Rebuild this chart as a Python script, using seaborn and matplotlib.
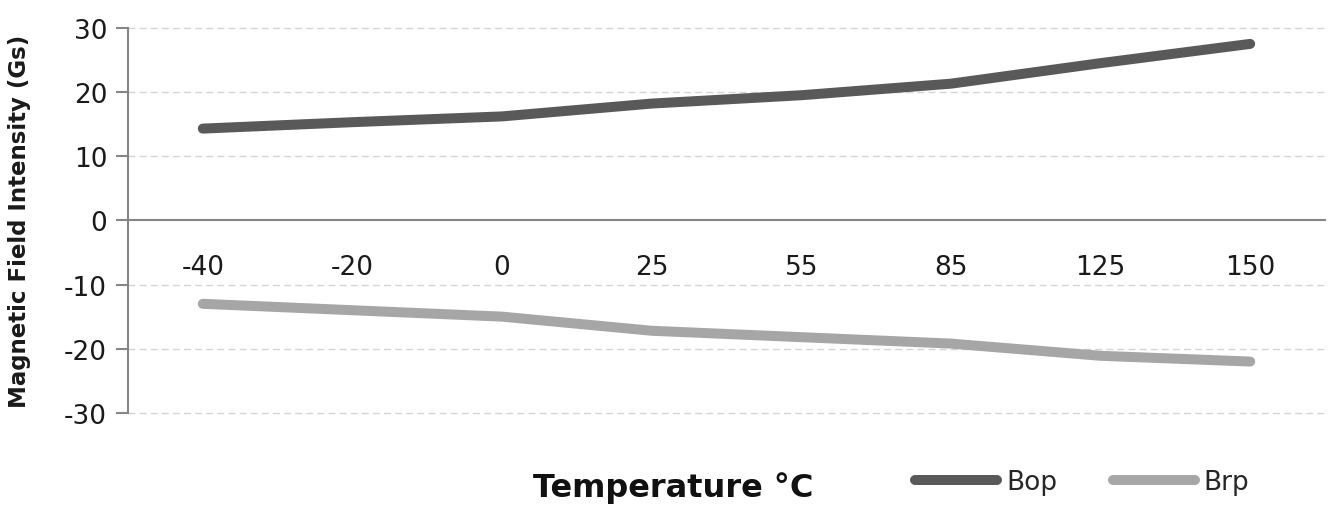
import matplotlib
matplotlib.use("Agg")
import matplotlib.pyplot as plt
import pandas as pd
import seaborn as sns

sns.set_theme(style="white")
plt.rcParams['font.family'] = ['DejaVu Sans']
plt.rcParams['axes.unicode_minus'] = False

# data
temps = ["-40", "-20", "0", "25", "55", "85", "125", "150"]
bop = [14.3, 15.3, 16.2, 18.2, 19.5, 21.3, 24.5, 27.5]
brp = [-13.0, -14.0, -15.0, -17.2, -18.2, -19.2, -21.1, -22.0]

df = pd.DataFrame({
    "pos": list(range(len(temps))) * 2,
    "value": bop + brp,
    "series": ["Bop"] * len(temps) + ["Brp"] * len(temps),
})

fig = plt.figure(figsize=(13.33, 5.06), dpi=100)
ax = fig.add_axes([0.096, 0.182, 0.898, 0.761])

sns.lineplot(data=df, x="pos", y="value", hue="series",
             palette={"Bop": "#595959", "Brp": "#a6a6a6"},
             linewidth=7.2, ax=ax, legend=False, solid_capstyle="round")

ax.set_xlim(-0.5, len(temps) - 0.5)
ax.set_ylim(-30, 30)
ax.set_yticks([-30, -20, -10, 0, 10, 20, 30])
for y in [-30, -20, -10, 10, 20, 30]:
    ax.axhline(y, color="#d4d4d4", lw=1, ls=(0, (5, 3)), zorder=0, clip_on=False)

ax.set_xticks(range(len(temps)))
ax.set_xticklabels(temps)
ax.spines["bottom"].set_position(("data", 0))
ax.spines["bottom"].set_color("#868686")
ax.spines["bottom"].set_linewidth(1.5)
ax.spines["left"].set_color("#868686")
ax.spines["left"].set_linewidth(1.5)
ax.spines["top"].set_visible(False)
ax.spines["right"].set_visible(False)
ax.tick_params(axis="x", length=0, pad=24, labelsize=19, labelcolor="#1a1a1a")
ax.tick_params(axis="y", left=True, direction="out", length=9, width=1.5,
               color="#868686", pad=6, labelsize=19, labelcolor="#1a1a1a")

ax.set_xlabel("")
ax.set_ylabel("Magnetic Field Intensity (Gs)", fontsize=16.5, fontweight="bold",
              color="#1a1a1a")
ax.yaxis.set_label_coords(-0.081, 0.5)

fig.text(0.505, 0.036, "Temperature °C", fontsize=23, fontweight="bold",
         color="#111111", ha="center", va="center")

handles = [plt.Line2D([], [], color="#595959", lw=7.2, solid_capstyle="round"),
           plt.Line2D([], [], color="#a6a6a6", lw=7.2, solid_capstyle="round")]
fig.legend(handles, ["Bop", "Brp"], loc="center", bbox_to_anchor=(0.812, 0.045),
           ncol=2, frameon=False, fontsize=19, handlelength=3.1,
           handletextpad=0.35, columnspacing=2.1)

fig.savefig("out.png", dpi=100)
